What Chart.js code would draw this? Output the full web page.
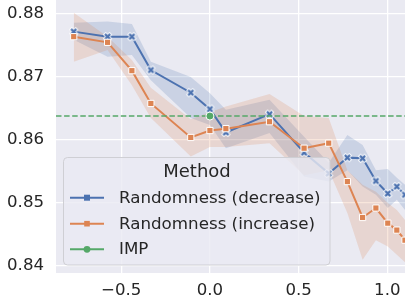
<!DOCTYPE html>
<html><head><meta charset="utf-8">
<script src="https://cdn.jsdelivr.net/npm/chart.js@4"></script>
<style>html,body{margin:0;padding:0;background:#fff;} canvas{display:block;}</style>
</head><body>
<canvas id="c" width="405" height="307"></canvas>
<script>
// ---- data ----
const xValues = [-0.768, -0.577, -0.44, -0.333, -0.108, 0.0, 0.09, 0.336, 0.531, 0.67, 0.775, 0.861, 0.936, 1.003, 1.054, 1.10];
const decreaseMean  = [0.8772, 0.8764, 0.8764, 0.8711, 0.8675, 0.8649, 0.8612, 0.8641, 0.8580, 0.8547, 0.8572, 0.8571, 0.8535, 0.8515, 0.8526, 0.8513];
const decreaseLower = [0.8759, 0.8732, 0.8735, 0.8695, 0.8635, 0.8624, 0.8587, 0.8611, 0.8542, 0.8534, 0.8552, 0.8526, 0.8513, 0.8492, 0.8505, 0.8489];
const decreaseUpper = [0.8786, 0.8788, 0.8784, 0.8724, 0.8700, 0.8674, 0.8648, 0.8664, 0.8605, 0.8564, 0.8608, 0.8592, 0.8552, 0.8554, 0.8540, 0.8529];
const increaseMean  = [0.8764, 0.8755, 0.8710, 0.8658, 0.8604, 0.8615, 0.8618, 0.8629, 0.8587, 0.8595, 0.8534, 0.8477, 0.8492, 0.8468, 0.8457, 0.8441];
const increaseLower = [0.8724, 0.8743, 0.8687, 0.8635, 0.8574, 0.8589, 0.8589, 0.8595, 0.8544, 0.8552, 0.8484, 0.8410, 0.8441, 0.8431, 0.8418, 0.8406];
const increaseUpper = [0.8802, 0.8764, 0.8727, 0.8683, 0.8633, 0.8644, 0.8653, 0.8673, 0.8638, 0.8635, 0.8552, 0.8529, 0.8518, 0.8500, 0.8489, 0.8473];
const impX = [0.0];
const impY = [0.8638];
const xTicks = [-0.5, 0.0, 0.5, 1.0];
const xTickLabels = ['\u22120.5', '0.0', '0.5', '1.0'];
const yTicks = [0.84, 0.85, 0.86, 0.87, 0.88];
const yTickLabels = ['0.84', '0.85', '0.86', '0.87', '0.88'];
const legendTitle = 'Method';
const legendLabels = ['Randomness (decrease)', 'Randomness (increase)', 'IMP'];
const xMin = -0.868, xMax = 1.10;
const yMin = 0.83889, yMax = 0.88222;

// ---- styles ----
const BLUE = '#4C72B0', ORANGE = '#DD8452', GREEN = '#55A868';
const TXT = '#262626';
const FONT = "'DejaVu Sans', sans-serif";

const pts = (xs, ys) => xs.map((x, i) => ({x: x, y: ys[i]}));

function drawX(ctx, x, y, r, color) {
  ctx.save();
  ctx.lineCap = 'butt';
  ctx.strokeStyle = '#fff'; ctx.lineWidth = 4;
  ctx.beginPath(); ctx.moveTo(x - r - 0.7, y - r - 0.7); ctx.lineTo(x + r + 0.7, y + r + 0.7);
  ctx.moveTo(x - r - 0.7, y + r + 0.7); ctx.lineTo(x + r + 0.7, y - r - 0.7); ctx.stroke();
  ctx.strokeStyle = color; ctx.lineWidth = 2.2;
  ctx.beginPath(); ctx.moveTo(x - r, y - r); ctx.lineTo(x + r, y + r);
  ctx.moveTo(x - r, y + r); ctx.lineTo(x + r, y - r); ctx.stroke();
  ctx.restore();
}
const xMarker = document.createElement('canvas');
xMarker.width = 11; xMarker.height = 11;
drawX(xMarker.getContext('2d'), 5.5, 5.5, 2.6, BLUE);

const bgPlugin = {
  id: 'bg',
  beforeDraw(chart) {
    const {ctx, chartArea: a} = chart;
    ctx.save();
    ctx.fillStyle = '#fff'; ctx.fillRect(0, 0, chart.width, chart.height);
    ctx.fillStyle = '#EAEAF2'; ctx.fillRect(a.left, a.top, a.right - a.left, a.bottom - a.top);
    ctx.restore();
  }
};

const legendPlugin = {
  id: 'customLegend',
  afterDraw(chart) {
    const ctx = chart.ctx;
    ctx.save();
    const bx = 63.5, by = 157.5, bw = 266.5, bh = 107.5, rr = 4;
    ctx.beginPath();
    ctx.moveTo(bx + rr, by); ctx.lineTo(bx + bw - rr, by); ctx.quadraticCurveTo(bx + bw, by, bx + bw, by + rr);
    ctx.lineTo(bx + bw, by + bh - rr); ctx.quadraticCurveTo(bx + bw, by + bh, bx + bw - rr, by + bh);
    ctx.lineTo(bx + rr, by + bh); ctx.quadraticCurveTo(bx, by + bh, bx, by + bh - rr);
    ctx.lineTo(bx, by + rr); ctx.quadraticCurveTo(bx, by, bx + rr, by); ctx.closePath();
    ctx.fillStyle = 'rgba(234,234,242,0.8)'; ctx.fill();
    ctx.strokeStyle = '#cfcfd4'; ctx.lineWidth = 1; ctx.stroke();

    ctx.fillStyle = TXT;
    ctx.textBaseline = 'middle';
    ctx.textAlign = 'center';
    ctx.font = '18px ' + FONT;
    ctx.fillText(legendTitle, 197, 172);

    const ys = [197.7, 223.7, 249.3];
    const cols = [BLUE, ORANGE, GREEN];
    ctx.font = '16.7px ' + FONT;
    ctx.textAlign = 'left';
    for (let i = 0; i < 3; i++) {
      const y = ys[i];
      ctx.strokeStyle = cols[i]; ctx.lineWidth = 2;
      ctx.beginPath(); ctx.moveTo(70, y); ctx.lineTo(104, y); ctx.stroke();
      if (i === 0) {
        ctx.fillStyle = BLUE; ctx.fillRect(84, y - 3, 6, 6);
      } else if (i === 1) {
        ctx.fillStyle = ORANGE; ctx.fillRect(84.2, y - 2.8, 5.6, 5.6);
      } else {
        ctx.fillStyle = GREEN; ctx.beginPath(); ctx.arc(87, y, 3.4, 0, Math.PI * 2); ctx.fill();
      }
      ctx.fillStyle = TXT;
      ctx.fillText(legendLabels[i], 119, y + 0.5);
    }
    ctx.restore();
  }
};

const band = (ys, color, fillTarget, order) => ({
  data: pts(xValues, ys), borderWidth: 0, pointRadius: 0, backgroundColor: color,
  fill: fillTarget, order: order, tension: 0
});

new Chart(document.getElementById('c'), {
  type: 'line',
  data: {
    datasets: [
      band(decreaseLower, 'rgba(76,114,176,0.2)', false, 8),
      band(decreaseUpper, 'rgba(76,114,176,0.2)', {target: 0}, 7),
      band(increaseLower, 'rgba(221,132,82,0.2)', false, 6),
      band(increaseUpper, 'rgba(221,132,82,0.2)', {target: 2}, 5),
      { data: pts(xValues, decreaseMean), borderColor: BLUE, borderWidth: 2, pointStyle: xMarker,
        pointRadius: 4, fill: false, order: 4, tension: 0 },
      { data: pts(xValues, increaseMean), borderColor: ORANGE, borderWidth: 2, pointStyle: 'rect',
        pointRadius: 4.4, pointBackgroundColor: ORANGE, pointBorderColor: '#fff', pointBorderWidth: 1,
        fill: false, order: 3, tension: 0 },
      { data: [{x: xMin, y: impY[0]}, {x: xMax, y: impY[0]}], borderColor: GREEN, borderWidth: 1.5,
        borderDash: [5.5, 2.6], pointRadius: 0, fill: false, order: 2 },
      { data: pts(impX, impY), showLine: false, pointStyle: 'circle', pointRadius: 4,
        pointBackgroundColor: GREEN, pointBorderColor: '#fff', pointBorderWidth: 1, order: 1 }
    ]
  },
  options: {
    responsive: false, animation: false, devicePixelRatio: 1,
    layout: {padding: 0, autoPadding: false},
    plugins: {legend: {display: false}, tooltip: {enabled: false}},
    scales: {
      x: {
        type: 'linear', min: xMin, max: xMax,
        afterBuildTicks(s) { s.ticks = xTicks.map(v => ({value: v})); },
        afterFit(s) { s.height = 34; s.paddingLeft = 0; s.paddingRight = 0; },
        grid: {color: '#ffffff', lineWidth: 1.3, drawTicks: false},
        border: {display: false},
        ticks: {padding: 8, color: TXT, maxRotation: 0, autoSkip: false,
          font: {family: FONT, size: 16.6},
          callback: (v) => xTickLabels[xTicks.findIndex(t => Math.abs(t - v) < 1e-9)]}
      },
      y: {
        type: 'linear', min: yMin, max: yMax,
        afterBuildTicks(s) { s.ticks = yTicks.map(v => ({value: v})); },
        afterFit(s) { s.width = 56; s.paddingTop = 0; s.paddingBottom = 0; },
        grid: {color: '#ffffff', lineWidth: 1.3, drawTicks: false},
        border: {display: false},
        ticks: {padding: 12, color: TXT, autoSkip: false,
          font: {family: FONT, size: 16.6},
          callback: (v) => yTickLabels[yTicks.findIndex(t => Math.abs(t - v) < 1e-9)]}
      }
    }
  },
  plugins: [bgPlugin, legendPlugin]
});
</script>
</body></html>
